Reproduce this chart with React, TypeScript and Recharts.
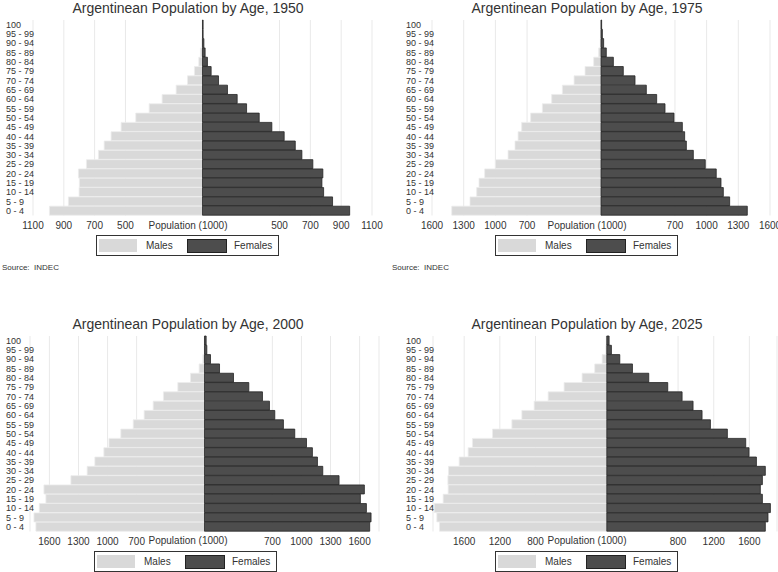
import React from 'react'
import { BarChart, Bar, XAxis, YAxis, CartesianGrid } from 'recharts'

// age groups, listed top to bottom as drawn
const ageGroups = [
  '100', '95 - 99', '90 - 94', '85 - 89', '80 - 84', '75 - 79', '70 - 74',
  '65 - 69', '60 - 64', '55 - 59', '50 - 54', '45 - 49', '40 - 44', '35 - 39',
  '30 - 34', '25 - 29', '20 - 24', '15 - 19', '10 - 14', '5 - 9', '0 - 4',
]

// population in thousands
const males1950 = [2, 2, 5, 13, 24, 52, 97, 171, 262, 346, 433, 528, 593, 638, 675, 753, 805, 799, 801, 870, 993]
const females1950 = [4, 4, 9, 17, 32, 56, 104, 162, 225, 286, 368, 450, 530, 602, 645, 716, 781, 775, 786, 844, 955]

const males1975 = [3, 3, 6, 22, 69, 151, 255, 366, 467, 555, 666, 751, 785, 814, 880, 1000, 1101, 1155, 1177, 1240, 1413]
const females1975 = [6, 13, 25, 50, 117, 211, 322, 429, 527, 606, 691, 770, 792, 808, 874, 987, 1091, 1136, 1158, 1218, 1385]

const males2000 = [2, 3, 17, 55, 144, 275, 423, 529, 622, 735, 863, 986, 1038, 1131, 1210, 1378, 1656, 1636, 1704, 1759, 1739]
const females2000 = [17, 24, 62, 155, 299, 457, 598, 670, 725, 814, 931, 1052, 1113, 1165, 1220, 1388, 1649, 1608, 1670, 1718, 1704]

const males2025 = [7, 11, 52, 135, 277, 479, 658, 815, 953, 1065, 1282, 1507, 1555, 1656, 1776, 1783, 1780, 1836, 1936, 1907, 1877]
const females2025 = [26, 52, 146, 288, 471, 684, 845, 968, 1069, 1163, 1353, 1559, 1596, 1679, 1779, 1746, 1723, 1746, 1836, 1809, 1779]

const ticks1950 = [-1100, -900, -700, -500, 500, 700, 900, 1100]
const ticks1975 = [-1600, -1300, -1000, -700, 700, 1000, 1300, 1600]
const ticks2000 = [-1600, -1300, -1000, -700, 700, 1000, 1300, 1600]
const ticks2025 = [-1600, -1200, -800, 800, 1200, 1600]

const FONT = '"Liberation Sans", Arial, Helvetica, sans-serif'
const MALE = '#d9d9d9'
const FEMALE = '#4d4d4d'
const INK = '#333333'

// legendX / labelX / center are relative to each panel's left edge
const panels = [
  {
    year: 1950, males: males1950, females: females1950, ticks: ticks1950,
    domain: [-1100, 1100], left: 0, top: 0, width: 389, yAxisWidth: 33, marginRight: 17,
    labelX: 6, center: 188, legendX: 96, source: true,
  },
  {
    year: 1975, males: males1975, females: females1975, ticks: ticks1975,
    domain: [-1600, 1600], left: 390, top: 0, width: 388, yAxisWidth: 42, marginRight: 8,
    labelX: 16, center: 197, legendX: 105, source: true,
  },
  {
    year: 2000, males: males2000, females: females2000, ticks: ticks2000,
    domain: [-1800, 1800], left: 0, top: 315.7, width: 389, yAxisWidth: 30, marginRight: 10,
    labelX: 6, center: 188, legendX: 94, source: false,
  },
  {
    year: 2025, males: males2025, females: females2025, ticks: ticks2025,
    domain: [-1950, 1910], left: 390, top: 315.7, width: 388, yAxisWidth: 43, marginRight: 1,
    labelX: 16, center: 197, legendX: 105, source: false,
  },
]

const PLOT_TOP = 20
const PLOT_H = 195.5
const AXIS_H = 16

function AgeTick(props: any) {
  const { y, payload, labelX } = props
  return (
    <text x={labelX} y={y} dy={3.2} fontSize={9} fill={INK} fontFamily={FONT} textAnchor="start">
      {payload.value}
    </text>
  )
}

function PopTick(props: any) {
  const { x, y, payload } = props
  return (
    <text x={x} y={y + 13} fontSize={10} fill={INK} fontFamily={FONT} textAnchor="middle">
      {Math.abs(payload.value)}
    </text>
  )
}

function LegendBox({ x, y }: { x: number; y: number }) {
  return (
    <div
      style={{
        position: 'absolute', left: x, top: y, width: 181, height: 19,
        border: `1px solid ${INK}`, background: '#fff', fontSize: 10, color: INK,
      }}
    >
      <div style={{ position: 'absolute', left: 2, top: 3, width: 38, height: 13, background: MALE }} />
      <div style={{ position: 'absolute', left: 49, top: 3, lineHeight: '13px' }}>Males</div>
      <div style={{ position: 'absolute', left: 90, top: 3, width: 38, height: 12, background: FEMALE, border: '0.5px solid #222' }} />
      <div style={{ position: 'absolute', left: 137, top: 3, lineHeight: '13px' }}>Females</div>
    </div>
  )
}

function Pyramid(p: (typeof panels)[number]) {
  const rows = ageGroups.map((age, i) => ({
    age,
    males: -p.males[i],
    females: p.females[i],
  }))
  const plotBottom = PLOT_TOP + PLOT_H
  return (
    <div style={{ position: 'absolute', left: p.left, top: p.top, width: p.width, height: 280 }}>
      <div
        style={{
          position: 'absolute', left: p.center - 150, width: 300, top: 0, lineHeight: '16px',
          textAlign: 'center', fontSize: 14, color: INK,
        }}
      >
        Argentinean Population by Age, {p.year}
      </div>
      <div style={{ position: 'absolute', top: PLOT_TOP - 2, left: 0 }}>
        <BarChart
          width={p.width}
          height={2 + PLOT_H + AXIS_H}
          data={rows}
          layout="vertical"
          stackOffset="sign"
          barCategoryGap={0}
          margin={{ top: 2, right: p.marginRight, left: 0, bottom: 0 }}
        >
          <CartesianGrid horizontal={false} stroke="#e9e9e9" />
          <XAxis
            type="number"
            domain={p.domain}
            ticks={p.ticks}
            interval={0}
            allowDataOverflow
            axisLine={false}
            tickLine={false}
            tickSize={0}
            tickMargin={0}
            height={AXIS_H}
            tick={<PopTick />}
          />
          <YAxis
            type="category"
            dataKey="age"
            width={p.yAxisWidth}
            interval={0}
            axisLine={false}
            tickLine={false}
            tickSize={0}
            tick={<AgeTick labelX={p.labelX} />}
          />
          <Bar dataKey="males" stackId="pop" fill={MALE} stroke="#ececec" strokeWidth={0.8} isAnimationActive={false} />
          <Bar dataKey="females" stackId="pop" fill={FEMALE} stroke="#262626" strokeWidth={0.8} isAnimationActive={false} />
        </BarChart>
      </div>
      <div
        style={{
          position: 'absolute', left: p.center - 60, width: 120, top: plotBottom + 3,
          textAlign: 'center', fontSize: 10, color: INK, lineHeight: '13px',
        }}
      >
        Population (1000)
      </div>
      <LegendBox x={p.legendX} y={plotBottom + 19.5} />
      {p.source && (
        <div style={{ position: 'absolute', left: 2, top: 263, fontSize: 8, color: INK, whiteSpace: 'pre' }}>
          {'Source:  INDEC'}
        </div>
      )}
    </div>
  )
}

export default function App() {
  return (
    <div
      style={{
        position: 'absolute', left: 0, top: 0, width: 778, height: 572, overflow: 'hidden',
        background: '#fff', fontFamily: FONT,
      }}
    >
      {panels.map(p => (
        <Pyramid key={p.year} {...p} />
      ))}
    </div>
  )
}
